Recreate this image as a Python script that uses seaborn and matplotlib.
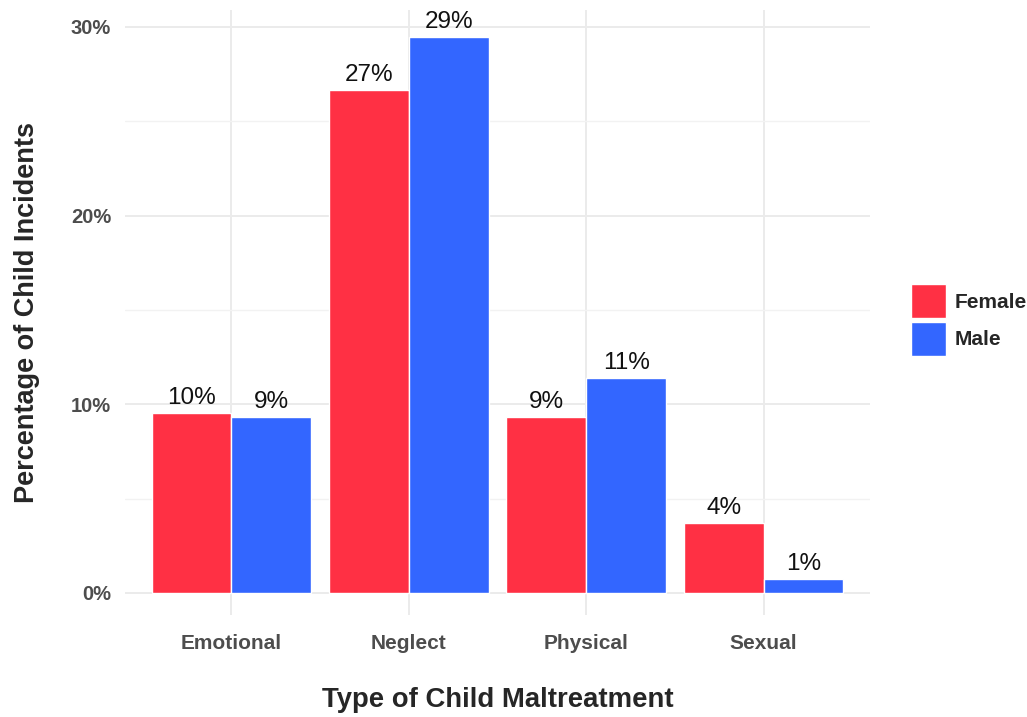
import matplotlib.pyplot as plt
import seaborn as sns
import pandas as pd
from matplotlib.ticker import MultipleLocator, PercentFormatter

# values (percent of child incidents)
categories = ["Emotional", "Neglect", "Physical", "Sexual"]
female = [9.55, 26.65, 9.3, 3.7]
male = [9.3, 29.45, 11.4, 0.75]
labels_f = ["10%", "27%", "9%", "4%"]
labels_m = ["9%", "29%", "11%", "1%"]

df = pd.DataFrame({
    "type": categories * 2,
    "pct": female + male,
    "sex": ["Female"] * 4 + ["Male"] * 4,
})

sns.set_style("whitegrid")
plt.rcParams["font.family"] = ["Liberation Sans", "DejaVu Sans"]

fig = plt.figure(figsize=(10.27, 7.17), dpi=100)
ax = fig.add_axes([125 / 1027, 102 / 717, 745 / 1027, 605 / 717])

sns.barplot(data=df, x="type", y="pct", hue="sex",
            palette={"Female": "#FF3044", "Male": "#3366FF"},
            width=0.9, saturation=1, ax=ax)

for cont, labs in zip(ax.containers, [labels_f, labels_m]):
    ax.bar_label(cont, labels=labs, padding=3, fontsize=17.5, color="#111111")

ax.set_xlim(-0.6, 3.6)
ax.set_ylim(-1.17, 30.9)
ax.yaxis.set_major_locator(MultipleLocator(10))
ax.yaxis.set_minor_locator(MultipleLocator(5))
ax.yaxis.set_major_formatter(PercentFormatter(decimals=0))
ax.grid(which="major", color="#EBEBEB", linewidth=1.4)
ax.grid(which="minor", axis="y", color="#F2F2F2", linewidth=1.0)
ax.set_axisbelow(True)
for s in ax.spines.values():
    s.set_visible(False)
ax.tick_params(axis="x", length=0, labelsize=15, labelcolor="#4D4D4D", pad=14)
ax.tick_params(axis="y", length=0, labelsize=14.5, labelcolor="#4D4D4D", pad=10)
for t in ax.get_xticklabels() + ax.get_yticklabels():
    t.set_fontweight("bold")

ax.set_xlabel("Type of Child Maltreatment", fontsize=19.8, fontweight="bold", labelpad=24)
ax.set_ylabel("Percentage of Child Incidents", fontsize=19.5, fontweight="bold", labelpad=22)

leg = ax.legend(title=None, loc="center left", frameon=False, fontsize=15,
                handlelength=1.66, handleheight=2.15,
                handletextpad=0.45, labelspacing=0.15)
leg.set_bbox_to_anchor((1.030, 0.4876), transform=ax.transAxes)
for t in leg.get_texts():
    t.set_fontweight("bold")

fig.savefig("out.png", dpi=100)
